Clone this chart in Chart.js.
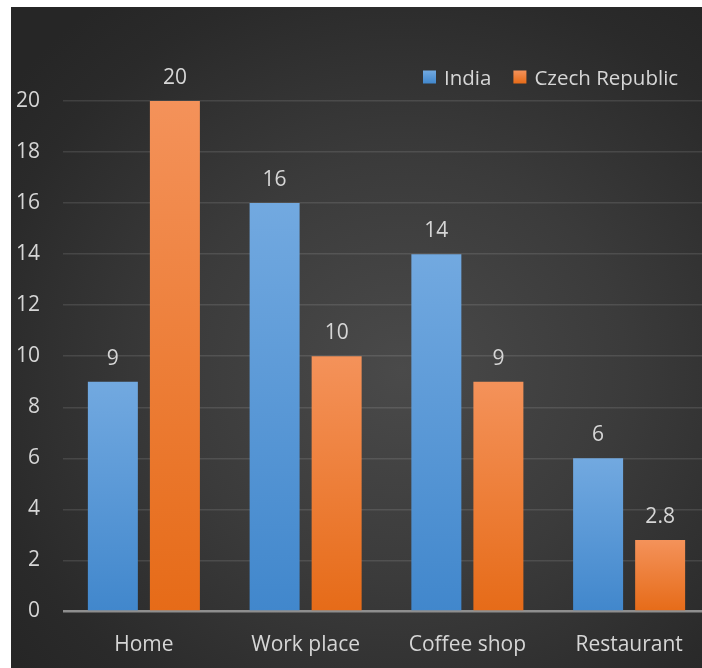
<!DOCTYPE html>
<html>
<head>
<meta charset="utf-8">
<script src="https://cdn.jsdelivr.net/npm/chart.js@4/dist/chart.umd.min.js"></script>
<style>
  html, body { margin: 0; padding: 0; background: #ffffff; width: 702px; height: 668px; overflow: hidden; }
  #box {
    position: absolute; left: 11px; top: 7px; width: 710px; height: 661px;
    background: radial-gradient(ellipse 70% 70% at 55% 55%, #4a4a4a 0%, #3b3b3b 45%, #2a2a2a 85%, #262626 100%);
  }
  #c { position: absolute; left: 0; top: 0; }
</style>
</head>
<body>
<div id="box"><canvas id="c" width="710" height="661"></canvas></div>
<script>
const categories = ['Home', 'Work place', 'Coffee shop', 'Restaurant'];
const seriesNames = ['India', 'Czech Republic'];
const indiaValues = [9, 16, 14, 6];
const czechValues = [20, 10, 9, 2.8];
const yTicks = [0, 2, 4, 6, 8, 10, 12, 14, 16, 18, 20];

const FONT = "'Open Sans', 'Noto Sans', sans-serif";
const TEXT = '#d6d6d6';
const palettes = [
  { top: '#72a9e0', bottom: '#4187cc', solid: '#5b9bd5' },
  { top: '#f4925a', bottom: '#e66b18', solid: '#ed7d31' }
];

function barGradient(c) {
  const chart = c.chart;
  const pal = palettes[c.datasetIndex];
  if (!chart.chartArea || c.raw === undefined) return pal.solid;
  const ys = chart.scales.y;
  const top = ys.getPixelForValue(c.raw);
  const base = ys.getPixelForValue(0);
  if (!isFinite(top) || !isFinite(base) || Math.abs(base - top) < 1) return pal.solid;
  const g = chart.ctx.createLinearGradient(0, top, 0, base);
  g.addColorStop(0, pal.top);
  g.addColorStop(1, pal.bottom);
  return g;
}

const valueLabels = {
  id: 'valueLabels',
  afterDatasetsDraw(chart) {
    const ctx = chart.ctx;
    ctx.save();
    ctx.font = '21px ' + FONT;
    ctx.fillStyle = TEXT;
    ctx.textAlign = 'center';
    ctx.textBaseline = 'alphabetic';
    chart.data.datasets.forEach((ds, di) => {
      const meta = chart.getDatasetMeta(di);
      meta.data.forEach((bar, i) => {
        ctx.fillText(String(ds.data[i]), bar.x, bar.y - 17);
      });
    });
    ctx.restore();
  }
};

const customLegend = {
  id: 'customLegend',
  afterDraw(chart) {
    const ctx = chart.ctx;
    ctx.save();
    ctx.font = '20.5px ' + FONT;
    ctx.textBaseline = 'alphabetic';
    ctx.textAlign = 'left';
    let x = 412;
    const cy = 70;
    chart.data.datasets.forEach((ds, di) => {
      const pal = palettes[di];
      const sq = 13;
      const g = ctx.createLinearGradient(0, cy - sq / 2, 0, cy + sq / 2);
      g.addColorStop(0, pal.top);
      g.addColorStop(1, pal.bottom);
      ctx.fillStyle = g;
      ctx.fillRect(x, cy - sq / 2, sq, sq);
      ctx.fillStyle = TEXT;
      ctx.fillText(ds.label, x + 21, cy + 8);
      x += 21 + ctx.measureText(ds.label).width + 22;
    });
    ctx.restore();
  }
};

new Chart(document.getElementById('c'), {
  type: 'bar',
  data: {
    labels: categories,
    datasets: [
      { label: seriesNames[0], data: indiaValues, backgroundColor: barGradient, borderWidth: 0 },
      { label: seriesNames[1], data: czechValues, backgroundColor: barGradient, borderWidth: 0 }
    ]
  },
  options: {
    responsive: false,
    animation: false,
    devicePixelRatio: 1,
    layout: { padding: { top: 94, right: 11, bottom: 0, left: 0 } },
    datasets: { bar: { categoryPercentage: 0.767, barPercentage: 0.806 } },
    plugins: {
      legend: { display: false },
      tooltip: { enabled: false },
      title: { display: false }
    },
    scales: {
      x: {
        grid: { display: false, drawTicks: false },
        border: { display: false },
        ticks: { color: TEXT, font: { family: FONT, size: 21 }, padding: 21, maxRotation: 0 },
        afterFit(axis) { axis.height = 56.5; }
      },
      y: {
        min: 0,
        max: 20,
        afterBuildTicks(axis) { axis.ticks = yTicks.map(v => ({ value: v })); },
        grid: {
          drawTicks: false,
          color: (c) => (c.tick && c.tick.value === 0) ? '#8e8e8e' : 'rgba(255,255,255,0.11)',
          lineWidth: (c) => (c.tick && c.tick.value === 0) ? 2.5 : 1.6
        },
        border: { display: false },
        ticks: { color: TEXT, font: { family: FONT, size: 21 }, padding: 23 },
        afterFit(axis) { axis.width = 52; }
      }
    }
  },
  plugins: [valueLabels, customLegend]
});
</script>
</body>
</html>
